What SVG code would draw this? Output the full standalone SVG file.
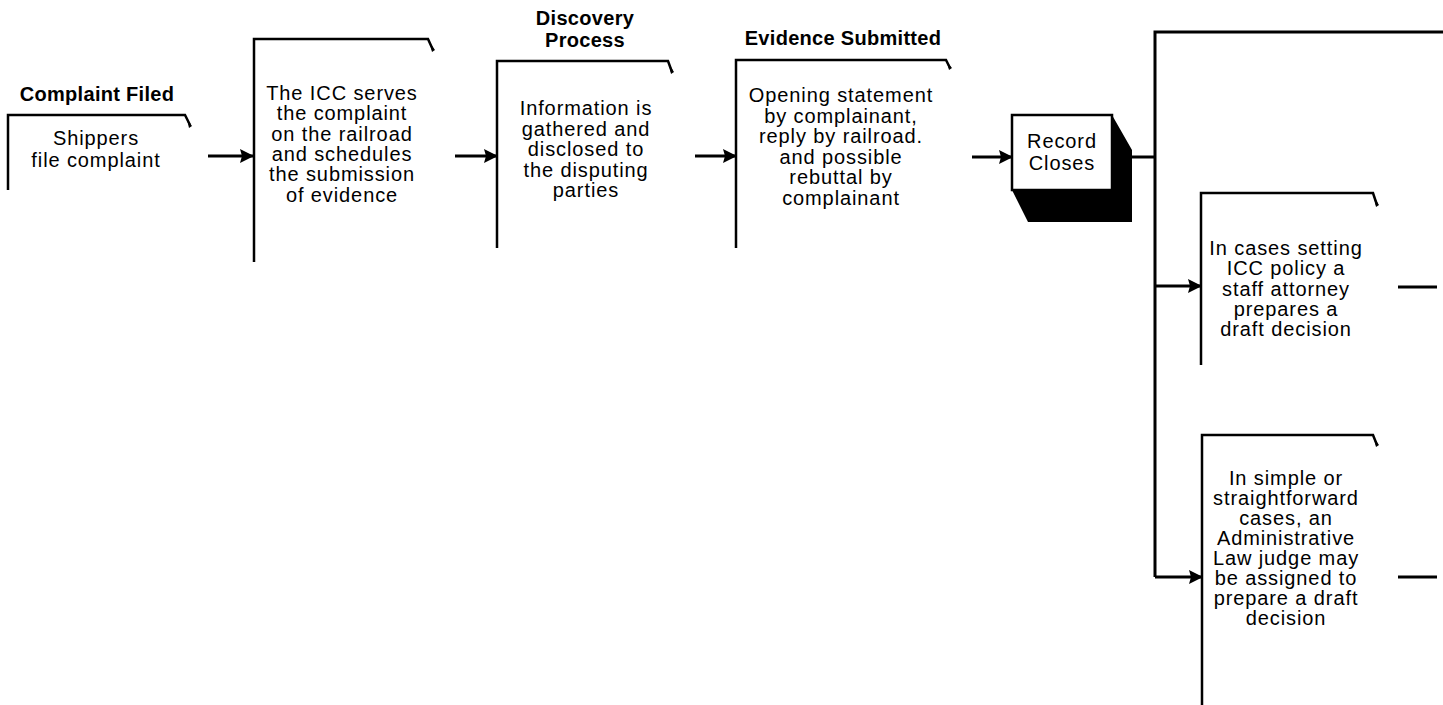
<svg xmlns="http://www.w3.org/2000/svg" width="1443" height="705" viewBox="0 0 1443 705">
  <style>
    .bg { fill: #ffffff; }
    .box { fill: none; stroke: #000; stroke-width: 2.5; stroke-linejoin: miter; }
    .hook { fill: #000; }
    .conn { fill: none; stroke: #000; stroke-width: 3; }
    .t { font-family: "Liberation Sans", Arial, Helvetica, sans-serif; font-size: 20px; letter-spacing: 0.9px; fill: #000; text-anchor: middle; }
    .h { font-family: "Liberation Sans", Arial, Helvetica, sans-serif; font-size: 20px; letter-spacing: 0.3px; font-weight: bold; fill: #000; text-anchor: middle; }
  </style>
  <defs>
    <marker id="arr" markerUnits="userSpaceOnUse" markerWidth="16" markerHeight="16" refX="14" refY="7" orient="auto">
      <path d="M0,0 L14,7 L0,14 L2,7 z" fill="#000"/>
    </marker>
  </defs>
  <rect class="bg" x="0" y="0" width="1443" height="705"/>

  <g id="connectors">
    <line class="conn" x1="208" y1="156" x2="254" y2="156" marker-end="url(#arr)"/>
    <line class="conn" x1="455" y1="156" x2="498" y2="156" marker-end="url(#arr)"/>
    <line class="conn" x1="695" y1="156" x2="737" y2="156" marker-end="url(#arr)"/>
    <line class="conn" x1="972" y1="157" x2="1013" y2="157" marker-end="url(#arr)"/>
    <line class="conn" x1="1132" y1="157" x2="1155" y2="157"/>
    <path class="conn" d="M1155,577 V32 H1443"/>
    <line class="conn" x1="1155" y1="286" x2="1202" y2="286" marker-end="url(#arr)"/>
    <line class="conn" x1="1155" y1="577" x2="1203" y2="577" marker-end="url(#arr)"/>
    <line class="conn" x1="1398" y1="287" x2="1437" y2="287"/>
    <line class="conn" x1="1398" y1="577" x2="1437" y2="577"/>
  </g>

  <g id="complaint-filed">
    <text class="h" x="97" y="101">Complaint Filed</text>
    <path class="box" d="M8,190 V115 H185 L190,125"/>
    <path class="hook" d="M187,119 L192,126 L189,128 z"/>
    <text class="t" x="96" y="145">Shippers</text>
    <text class="t" x="96" y="167">file complaint</text>
  </g>

  <g id="icc-serves">
    <path class="box" d="M254,262 V39 H428 L433,50"/>
    <path class="hook" d="M430,43 L435,50 L432,52 z"/>
    <text class="t" x="342" y="100">The ICC serves</text>
    <text class="t" x="342" y="120.3">the complaint</text>
    <text class="t" x="342" y="140.6">on the railroad</text>
    <text class="t" x="342" y="160.9">and schedules</text>
    <text class="t" x="342" y="181.2">the submission</text>
    <text class="t" x="342" y="201.5">of evidence</text>
  </g>

  <g id="discovery-process">
    <text class="h" x="585" y="25">Discovery</text>
    <text class="h" x="585" y="47">Process</text>
    <path class="box" d="M497,248 V61 H668 L672,72"/>
    <path class="hook" d="M669,64 L674,72 L671,74 z"/>
    <text class="t" x="586" y="115">Information is</text>
    <text class="t" x="586" y="135.5">gathered and</text>
    <text class="t" x="586" y="156">disclosed to</text>
    <text class="t" x="586" y="176.5">the disputing</text>
    <text class="t" x="586" y="197">parties</text>
  </g>

  <g id="evidence-submitted">
    <text class="h" x="843" y="45">Evidence Submitted</text>
    <path class="box" d="M736,248 V60 H946 L950,68"/>
    <path class="hook" d="M947,62 L952,68 L949,70 z"/>
    <text class="t" x="841" y="102">Opening statement</text>
    <text class="t" x="841" y="122.6">by complainant,</text>
    <text class="t" x="841" y="143.2">reply by railroad.</text>
    <text class="t" x="841" y="163.8">and possible</text>
    <text class="t" x="841" y="184.4">rebuttal by</text>
    <text class="t" x="841" y="205">complainant</text>
  </g>

  <g id="record-closes">
    <path d="M1112,115 L1132,150 L1132,222 L1028,222 L1012,190 L1112,190 z" fill="#000"/>
    <rect x="1012" y="115" width="100" height="75" fill="#fff" stroke="#000" stroke-width="2.5"/>
    <text class="t" x="1062" y="148">Record</text>
    <text class="t" x="1062" y="170">Closes</text>
  </g>

  <g id="staff-attorney">
    <path class="box" d="M1201,365 V193 H1373 L1377,205"/>
    <path class="hook" d="M1374,197 L1379,205 L1376,207 z"/>
    <text class="t" x="1286" y="255">In cases setting</text>
    <text class="t" x="1286" y="275.3">ICC policy a</text>
    <text class="t" x="1286" y="295.6">staff attorney</text>
    <text class="t" x="1286" y="315.9">prepares a</text>
    <text class="t" x="1286" y="336.2">draft decision</text>
  </g>

  <g id="administrative-law-judge">
    <path class="box" d="M1202,705 V435 H1373 L1377,445"/>
    <path class="hook" d="M1374,438 L1379,445 L1376,447 z"/>
    <text class="t" x="1286" y="485">In simple or</text>
    <text class="t" x="1286" y="505">straightforward</text>
    <text class="t" x="1286" y="525">cases, an</text>
    <text class="t" x="1286" y="545">Administrative</text>
    <text class="t" x="1286" y="565">Law judge may</text>
    <text class="t" x="1286" y="585">be assigned to</text>
    <text class="t" x="1286" y="605">prepare a draft</text>
    <text class="t" x="1286" y="625">decision</text>
  </g>
</svg>
